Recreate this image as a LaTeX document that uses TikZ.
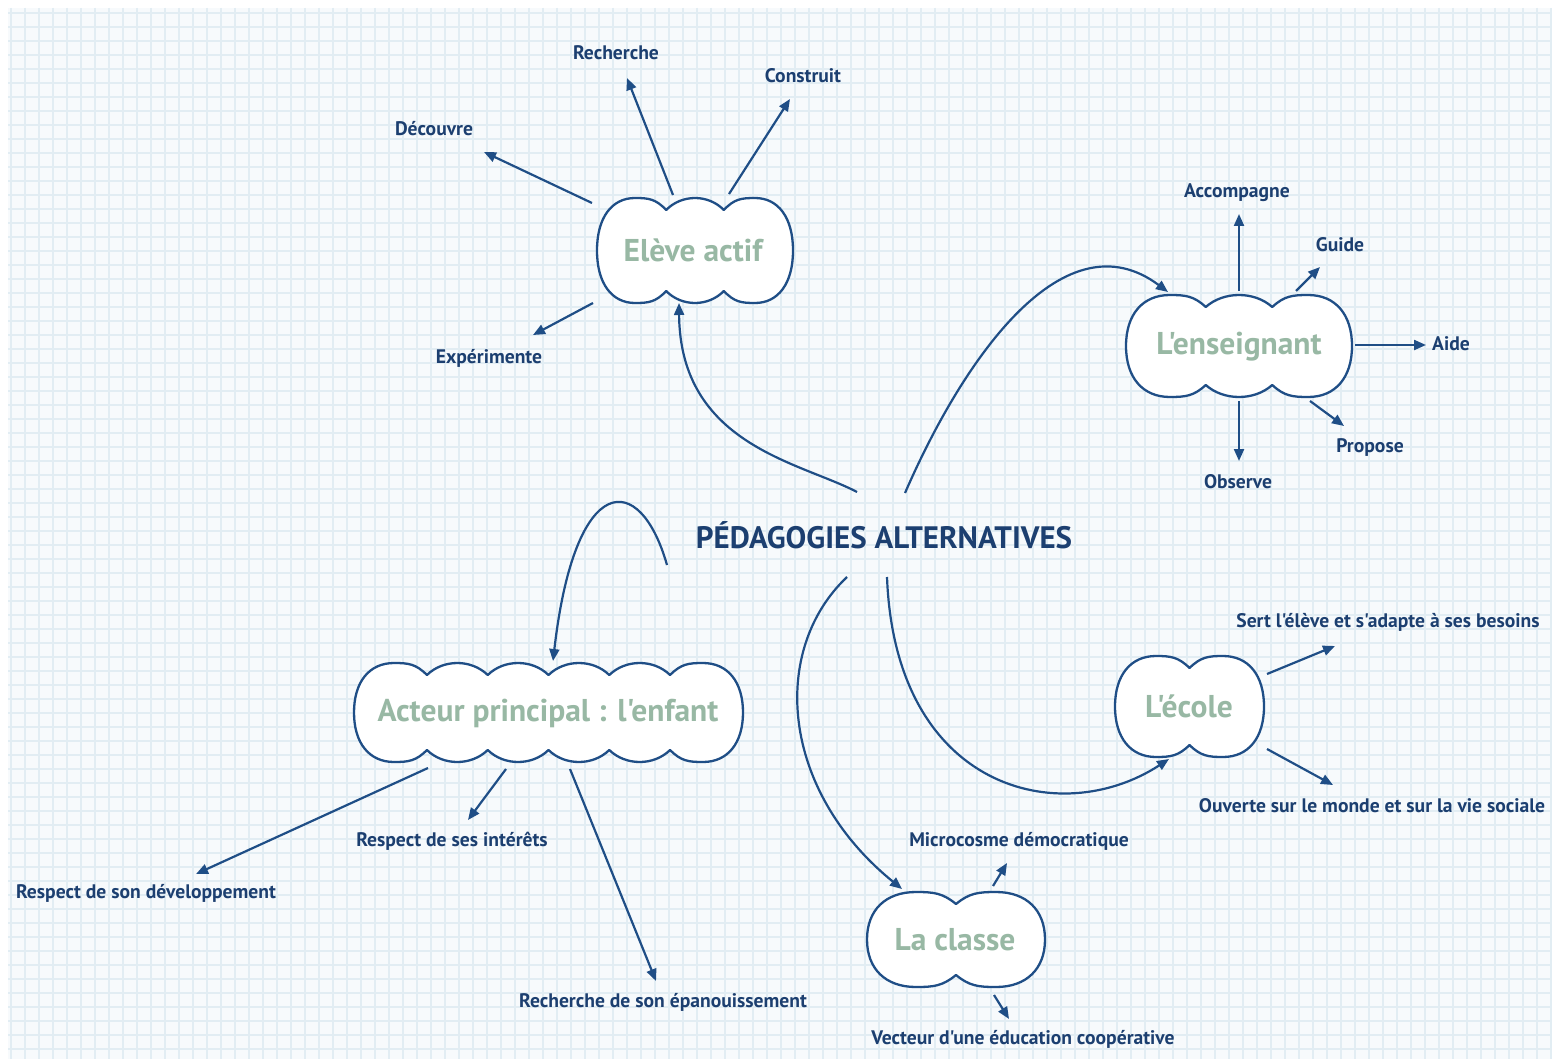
\documentclass[tikz,border=0pt]{standalone}
\usepackage{fontspec}
\setmainfont{PT Sans}[Ligatures=TeXOff]
\usetikzlibrary{arrows.meta}
\definecolor{lineblue}{HTML}{1F4E86}
\definecolor{txtblue}{HTML}{1C3F70}
\definecolor{cloudtxt}{HTML}{98B8A4}
\definecolor{gridc}{HTML}{E2EDF3}
\definecolor{bgc}{HTML}{F7FAFC}

\newcommand\mycloud[5]{%
 \pgfmathsetmacro\cw{(#3-#1)/(#5+0.4)}%
 \pgfmathsetmacro\ce{1.2*\cw}%
 \pgfmathsetmacro\va{#1+\ce}%
 \pgfmathsetmacro\vz{#3-\ce}%
 \pgfmathsetmacro\cm{(#2+#4)/2}%
 \pgfmathsetmacro\ry{(#4-#2)/2}%
 \pgfmathsetmacro\pl{\va-0.45*\ce}%
 \pgfmathsetmacro\pr{\vz+0.45*\ce}%
 \pgfmathsetmacro\rx{0.55*\ce}%
 \def\cd{12}%
 \gdef\ctop{}\gdef\cbot{}%
 \ifnum#5>2
  \pgfmathtruncatemacro\cnm{#5-2}%
  \foreach \k in {1,...,\cnm}{%
   \pgfmathsetmacro\xa{\va+(\k-1)*\cw}\pgfmathsetmacro\xb{\va+\k*\cw}%
   \pgfmathsetmacro\xc{\vz-(\k-1)*\cw}\pgfmathsetmacro\xd{\vz-\k*\cw}%
   \pgfmathsetmacro\ya{#2+\cd}\pgfmathsetmacro\yc{#2-\cd/3}%
   \pgfmathsetmacro\yb{#4-\cd}\pgfmathsetmacro\yd{#4+\cd/3}%
   \pgfmathsetmacro\xaa{\xa+0.27*\cw}\pgfmathsetmacro\xbb{\xb-0.27*\cw}%
   \pgfmathsetmacro\xcc{\xc-0.27*\cw}\pgfmathsetmacro\xdd{\xd+0.27*\cw}%
   \xdef\ctop{\ctop .. controls (\xaa,\yc) and (\xbb,\yc) .. (\xb,\ya)}%
   \xdef\cbot{\cbot .. controls (\xcc,\yd) and (\xdd,\yd) .. (\xd,\yb)}%
  }%
 \fi
 \path[cloudline] (\va,#2+\cd) \ctop
  .. controls (\vz+0.15*\ce,#2+1) and (\pr-0.2*\ce,#2) .. (\pr,#2)
  .. controls (\pr+0.62*\rx,#2) and (#3,\cm-0.62*\ry) .. (#3,\cm)
  .. controls (#3,\cm+0.62*\ry) and (\pr+0.62*\rx,#4) .. (\pr,#4)
  .. controls (\pr-0.2*\ce,#4) and (\vz+0.15*\ce,#4-1) .. (\vz,#4-\cd)
  \cbot
  .. controls (\va-0.15*\ce,#4-1) and (\pl+0.2*\ce,#4) .. (\pl,#4)
  .. controls (\pl-0.62*\rx,#4) and (#1,\cm+0.62*\ry) .. (#1,\cm)
  .. controls (#1,\cm-0.62*\ry) and (\pl-0.62*\rx,#2) .. (\pl,#2)
  .. controls (\pl+0.2*\ce,#2) and (\va-0.15*\ce,#2+1) .. (\va,#2+\cd) -- cycle;
}

\begin{document}
\begin{tikzpicture}[x=1pt,y=-1pt,
  cloudline/.style={draw=lineblue,line width=2.3pt,fill=white,line join=round},
  cloudtext/.style={text=cloudtxt,font=\fontsize{31.5}{34}\selectfont\bfseries,inner sep=0pt},
  lbl/.style={text=txtblue,font=\fontsize{19.6}{22}\selectfont\bfseries,inner sep=0pt},
  title/.style={text=txtblue,font=\fontsize{31}{34}\selectfont\bfseries,inner sep=0pt},
  arr/.style={draw=lineblue,line width=2.2pt,-{Triangle[length=12pt,width=10pt]}},
  conn/.style={draw=lineblue,line width=2.2pt,-{Triangle[length=12pt,width=10pt]}}]
\useasboundingbox (0,0) rectangle (1552,1059);
\fill[white] (0,0) rectangle (1552,1059);
\fill[bgc] (8,8) rectangle (1552,1059);
\begin{scope}
\clip (8,8) rectangle (1552,1059);
\foreach \gx in {11,25,...,1552} {\draw[gridc,line width=1.6pt] (\gx,8) -- (\gx,1059);}
\foreach \gy in {13,27,...,1059} {\draw[gridc,line width=1.6pt] (8,\gy) -- (1552,\gy);}
\end{scope}

% clouds
\mycloud{597}{198}{793}{303}{3}
\node[cloudtext] (eleve) at (693,250) {Elève actif};
\mycloud{1126}{295}{1352}{397}{3}
\node[cloudtext] (ens) at (1239,347) {L'enseignant};
\mycloud{354}{663}{743}{762}{6}
\node[cloudtext] (acteur) at (548,713) {Acteur principal : l'enfant};
\mycloud{1115}{656}{1264}{757}{2}
\node[cloudtext] (ecole) at (1189,706) {L'école};
\mycloud{867}{892}{1045}{987}{2}
\node[cloudtext] (classe) at (955,940) {La classe};

% title
\node[title] (ped) at (884,535) {PÉDAGOGIES ALTERNATIVES};

% labels
\node[lbl] (recherche) at (616,53) {Recherche};
\node[lbl] (construit) at (803,76) {Construit};
\node[lbl] (decouvre) at (434,129) {Découvre};
\node[lbl] (experimente) at (489,358) {Expérimente};
\node[lbl] (accompagne) at (1237,193) {Accompagne};
\node[lbl] (guide) at (1340,245) {Guide};
\node[lbl] (aide) at (1451,344) {Aide};
\node[lbl] (propose) at (1370,447) {Propose};
\node[lbl] (observe) at (1238,482) {Observe};
\node[lbl] (sert) at (1388,622) {Sert l'élève et s'adapte à ses besoins};
\node[lbl] (ouverte) at (1372,806) {Ouverte sur le monde et sur la vie sociale};
\node[lbl] (micro) at (1019,841) {Microcosme démocratique};
\node[lbl] (vecteur) at (1023,1039) {Vecteur d'une éducation coopérative};
\node[lbl] (epan) at (663,1002) {Recherche de son épanouissement};
\node[lbl] (interets) at (452,841) {Respect de ses intérêts};
\node[lbl] (dev) at (146,893) {Respect de son développement};

% arrow end points
\coordinate (eA) at (592,203); \coordinate (eAt) at (484,152);
\coordinate (eB) at (673,195); \coordinate (eBt) at (627,78);
\coordinate (eC) at (729,194); \coordinate (eCt) at (790,99);
\coordinate (eD) at (593,303); \coordinate (eDt) at (533,335);
\coordinate (nA) at (1239,291); \coordinate (nAt) at (1239,214);
\coordinate (nB) at (1296,291); \coordinate (nBt) at (1320,267);
\coordinate (nC) at (1355,345); \coordinate (nCt) at (1426,345);
\coordinate (nD) at (1310,401); \coordinate (nDt) at (1344,426);
\coordinate (nE) at (1239,401); \coordinate (nEt) at (1239,461);
\coordinate (oA) at (1267,674); \coordinate (oAt) at (1335,646);
\coordinate (oB) at (1267,749); \coordinate (oBt) at (1333,785);
\coordinate (cA) at (993,886); \coordinate (cAt) at (1007,863);
\coordinate (cB) at (994,995); \coordinate (cBt) at (1009,1019);
\coordinate (aA) at (428,768); \coordinate (aAt) at (196,874);
\coordinate (aB) at (506,769); \coordinate (aBt) at (468,820);
\coordinate (aC) at (570,769); \coordinate (aCt) at (656,981);

\foreach \s/\t in {eA/eAt,eB/eBt,eC/eCt,eD/eDt,nA/nAt,nB/nBt,nC/nCt,nD/nDt,nE/nEt,
  oA/oAt,oB/oBt,cA/cAt,cB/cBt,aA/aAt,aB/aBt,aC/aCt}
  \draw[arr] (\s) -- (\t);

% main connectors
\coordinate (p1) at (857,492); \coordinate (p1t) at (679,303);
\coordinate (p2) at (905,493); \coordinate (p2t) at (1168,292);
\coordinate (p3) at (667,565); \coordinate (p3t) at (553,661);
\coordinate (p4) at (847,577); \coordinate (p4t) at (902,889);
\coordinate (p5) at (887,577); \coordinate (p5t) at (1169,759);
\draw[conn] (p1) .. controls (800,462) and (680,445) .. (p1t);
\draw[conn] (p2) .. controls (965,355) and (1065,215) .. (p2t);
\draw[conn] (p3) .. controls (640,470) and (575,470) .. (p3t);
\draw[conn] (p4) .. controls (770,650) and (780,790) .. (p4t);
\draw[conn] (p5) .. controls (895,790) and (1060,830) .. (p5t);
\end{tikzpicture}
\end{document}
